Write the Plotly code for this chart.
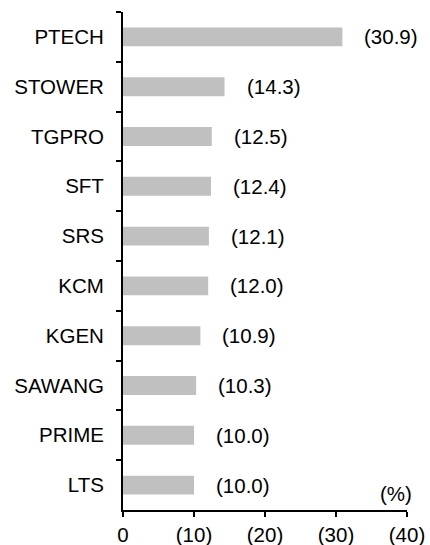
import plotly.graph_objects as go

categories = ["PTECH", "STOWER", "TGPRO", "SFT", "SRS", "KCM", "KGEN", "SAWANG", "PRIME", "LTS"]
values = [30.9, 14.3, 12.5, 12.4, 12.1, 12.0, 10.9, 10.3, 10.0, 10.0]
tick_vals = [0, 10, 20, 30, 40]
tick_text = ["0", "(10)", "(20)", "(30)", "(40)"]
unit_label = "(%)"

FONT = dict(family="Liberation Sans, Arial, sans-serif", size=20.5, color="#000000")

fig = go.Figure()
fig.add_trace(go.Bar(
    x=values, y=categories, orientation="h",
    marker=dict(color="#c0c0c0", line=dict(width=0)),
    width=0.38, hoverinfo="skip", cliponaxis=False,
))

annotations = []
for c, v in zip(categories, values):
    annotations.append(dict(
        x=v, y=c, xref="x", yref="y", text=f"({v:.1f})", showarrow=False,
        xanchor="left", yanchor="middle", xshift=20, font=FONT,
    ))
annotations.append(dict(
    x=40, y=0, xref="x", yref="paper", text=unit_label, showarrow=False,
    xanchor="center", yanchor="bottom", xshift=-11, yshift=3, font=FONT,
))

fig.update_layout(
    width=430, height=545,
    margin=dict(l=123, r=23, t=12, b=35, autoexpand=False),
    plot_bgcolor="white", paper_bgcolor="white",
    showlegend=False, font=FONT,
    annotations=annotations,
    xaxis=dict(
        range=[0, 40], tickvals=tick_vals, ticktext=tick_text, automargin=False,
        showgrid=False, zeroline=False, showline=True, linecolor="black", linewidth=2,
        ticks="outside", ticklen=5, tickwidth=2, tickcolor="black",
        ticklabelstandoff=0, tickfont=FONT,
    ),
    yaxis=dict(
        categoryorder="array", categoryarray=categories, autorange="reversed", automargin=False,
        showgrid=False, zeroline=False, showline=True, linecolor="black", linewidth=2,
        ticks="outside", ticklen=5, tickwidth=2, tickcolor="black", tickson="boundaries",
        ticklabelstandoff=13, tickfont=FONT,
    ),
)

fig.write_html(
    "out.html",
    config={"displayModeBar": False},
    post_script="document.body.style.margin='0';document.body.style.overflow='hidden';",
)
